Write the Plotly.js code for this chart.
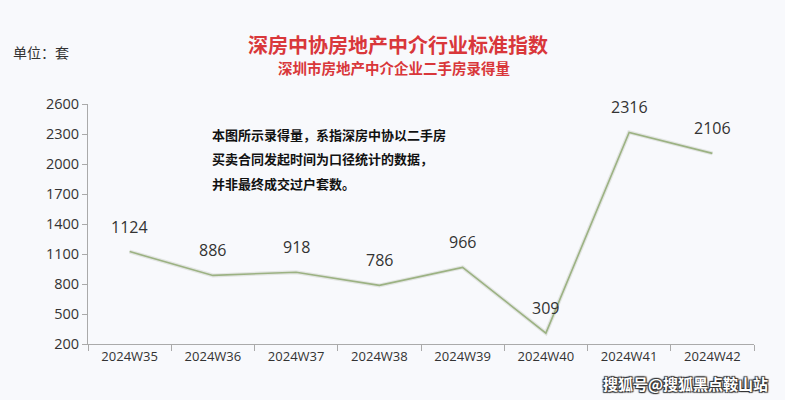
<!DOCTYPE html>
<html>
<head>
<meta charset="utf-8">
<script src="https://cdn.plot.ly/plotly-3.0.1.min.js"></script>
<style>html,body{margin:0;padding:0;background:#f8f9fc;}#chart{width:785px;height:400px;}</style>
</head>
<body>
<div id="chart"></div>
<script>
const weeks = ['2024W35','2024W36','2024W37','2024W38','2024W39','2024W40','2024W41','2024W42'];
const volumes = [1124, 886, 918, 786, 966, 309, 2316, 2106];
const yTicks = [200, 500, 800, 1100, 1400, 1700, 2000, 2300, 2600];
const titleText = '深房中协房地产中介行业标准指数';
const subtitleText = '深圳市房地产中介企业二手房录得量';
const unitText = '单位：套';
const noteLines = ['本图所示录得量，系指深房中协以二手房', '买卖合同发起时间为口径统计的数据，', '并非最终成交过户套数。'];
const watermark = '搜狐号@搜狐黑点鞍山站';

const font = '"Noto Sans CJK SC", "Noto Sans", sans-serif';

const traces = [
  {x: weeks, y: volumes, type: 'scatter', mode: 'lines', line: {color: 'rgba(200,204,196,0.45)', width: 4}, hoverinfo: 'skip'},
  {x: weeks, y: volumes, type: 'scatter', mode: 'lines', line: {color: '#9cb283', width: 1.6}}
];

const annotations = volumes.map((v, i) => ({
  x: weeks[i], y: v, xref: 'x', yref: 'y', text: String(v), showarrow: false,
  yshift: 25, font: {family: 'Open Sans, "Noto Sans", sans-serif', size: 16, color: '#333'}
}));

annotations.push(
  {xref: 'paper', yref: 'paper', x: 0.465, y: 1.0, yshift: 60, xanchor: 'center', yanchor: 'middle', showarrow: false,
   text: '<b>' + titleText + '</b>', font: {family: font, size: 20, color: '#d9373a'}},
  {xref: 'paper', yref: 'paper', x: 0.46, y: 1.0, yshift: 37, xanchor: 'center', yanchor: 'middle', showarrow: false,
   text: '<b>' + subtitleText + '</b>', font: {family: font, size: 14.5, color: '#d9373a'}},
  {xref: 'paper', yref: 'paper', x: 0, xshift: -77, y: 1.0, yshift: 52, xanchor: 'left', yanchor: 'middle', showarrow: false,
   text: unitText, font: {family: font, size: 14, color: '#333'}}
);

noteLines.forEach((t, i) => annotations.push({
  xref: 'paper', yref: 'paper', x: 0, xshift: 122, y: 1.0, yshift: -30 - 24.5 * i, xanchor: 'left', yanchor: 'middle',
  showarrow: false, text: '<b>' + t + '</b>', font: {family: font, size: 13, color: '#111'}
}));

annotations.push({
  xref: 'paper', yref: 'paper', x: 1, xshift: 16, y: 0, yshift: -39, xanchor: 'right', yanchor: 'middle', showarrow: false,
  text: '<b>' + watermark + '</b>',
  font: {family: font, size: 15, color: '#ffffff', shadow: '1px 1px 1px #333, -1px -1px 1px #333, 1px -1px 1px #333, -1px 1px 1px #333'}
});

const layout = {
  width: 785, height: 400,
  margin: {l: 88, r: 31, t: 104, b: 56},
  paper_bgcolor: '#f8f9fc', plot_bgcolor: '#f8f9fc',
  showlegend: false,
  xaxis: {type: 'category', range: [-0.5, 7.5], tickson: 'boundaries', ticks: 'outside', ticklen: 6,
          tickcolor: '#aaa', showline: true, linecolor: '#aaa', linewidth: 1, showgrid: false, zeroline: false,
          tickfont: {family: 'Open Sans, "Noto Sans", sans-serif', size: 13, color: '#333'}},
  yaxis: {range: [200, 2600], tickvals: yTicks, ticks: 'outside', ticklen: 5, tickcolor: '#aaa',
          showline: true, linecolor: '#aaa', linewidth: 1, showgrid: false, zeroline: false,
          tickfont: {family: 'Open Sans, "Noto Sans", sans-serif', size: 14.5, color: '#333'}},
  annotations: annotations
};

Plotly.newPlot('chart', traces, layout, {displayModeBar: false, staticPlot: true});
</script>
</body>
</html>
